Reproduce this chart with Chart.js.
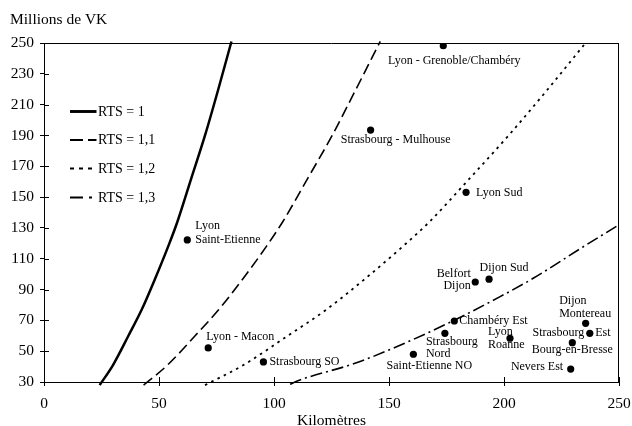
<!DOCTYPE html>
<html>
<head>
<meta charset="utf-8">
<script src="https://cdn.jsdelivr.net/npm/chart.js@4.4.1/dist/chart.umd.min.js"></script>
<style>
  html, body { margin: 0; padding: 0; background: #fff; }
  #wrap { width: 632px; height: 426px; }
</style>
</head>
<body>
<div id="wrap"><canvas id="rtsChart"></canvas></div>
<script>
// Courbes RTS (x = km, y = millions de VK)
const rts1X  = [24.2, 30, 36.7, 42.5, 48.3, 54, 58, 64, 70, 75.6, 81.5];
const rts1Y  = [28, 41, 60, 77, 97, 118, 134, 162, 190, 219, 251];
const rts11X = [43.3, 53.7, 65.7, 76, 86.5, 96.7, 103.8, 114.6, 125.3, 135.3, 146.2];
const rts11Y = [28, 41, 60, 77, 97, 118, 134, 162, 190, 219, 251];
const rts12X = [70, 86.7, 106, 122.8, 139.6, 156, 167.6, 185, 202, 218.5, 236];
const rts12Y = [28, 41, 60, 77, 97, 118, 134, 162, 190, 219, 251];
const rts13X = [107, 111.3, 135.2, 153.3, 178, 198.3, 212.7, 234.5, 250];
const rts13Y = [28.5, 31.3, 42.1, 52.9, 69.8, 85.4, 97.3, 117.8, 132];
const seriesNames = ['RTS = 1', 'RTS = 1,1', 'RTS = 1,2', 'RTS = 1,3'];

// Liaisons
const linkNames = [
  ['Lyon - Grenoble/Chambéry'], ['Strasbourg - Mulhouse'], ['Lyon Sud'],
  ['Lyon', 'Saint-Etienne'], ['Lyon - Macon'], ['Strasbourg SO'],
  ['Saint-Etienne NO'], ['Strasbourg', 'Nord'], ['Chambéry Est'],
  ['Belfort', 'Dijon'], ['Dijon Sud'], ['Lyon', 'Roanne'],
  ['Dijon', 'Montereau'], ['Strasbourg', 'Est'], ['Bourg-en-Bresse'], ['Nevers Est']
];
const linkKm = [173.6, 142, 183.5, 62.3, 71.4, 95.4, 160.6, 174.3, 178.4, 187.5, 193.5, 202.6, 235.5, 237.3, 229.7, 229];
const linkVK = [248.2, 193.5, 153.1, 122.2, 52.1, 43, 48, 61.6, 69.6, 94.9, 96.7, 58.4, 68.1, 61.6, 55.5, 38.4];

const xTicks = [0, 50, 100, 150, 200, 250];
const yTicks = [30, 50, 70, 90, 110, 130, 150, 170, 190, 210, 230, 250];

// label placement next to each point (pixels)
const labelPlace = [
  { a: 'center', dx: 11, dy: 15 },
  { a: 'center', dx: 25, dy: 10 },
  { a: 'left', dx: 10, dy: 1 },
  { a: 'left', dx: 8, dy: -14, lh: 14 },
  { a: 'left', dx: -2, dy: -11 },
  { a: 'left', dx: 6, dy: 0 },
  { a: 'center', dx: 16, dy: 11.5 },
  { a: 'left', dx: -19, dy: 8.5, lh: 11.8 },
  { a: 'left', dx: 5, dy: 0 },
  { a: 'right', dx: -4.5, dy: -7.7, lh: 11.7 },
  { a: 'center', dx: 15, dy: -11 },
  { a: 'left', dx: -22, dy: -6.6, lh: 13.3 },
  { a: 'left', dx: -26.5, dy: -22.6, lh: 13.3 },
  { a: 'split', dx: 5.5, dy: 0 },
  { a: 'center', dx: 0, dy: 7.3 },
  { a: 'right', dx: -7.5, dy: -2 }
];

const SERIF = '"Liberation Serif", "Times New Roman", serif';
const dashes = [[], [11, 5], [2.5, 4.5], [12, 4, 2, 4]];
const widths = [2.5, 1.6, 1.8, 1.6];
const legendDashes = [[], [13, 5], [4, 5], [13, 6, 3, 6]];

function pts(xs, ys) {
  return xs.map((x, i) => ({ x: x, y: ys[i] }));
}

const curves = [[rts1X, rts1Y], [rts11X, rts11Y], [rts12X, rts12Y], [rts13X, rts13Y]];
const datasets = curves.map((c, i) => ({
  label: seriesNames[i],
  data: pts(c[0], c[1]),
  showLine: true,
  borderColor: '#000',
  borderWidth: widths[i],
  borderDash: dashes[i],
  pointRadius: 0,
  cubicInterpolationMode: 'monotone',
  clip: 5
}));
datasets.push({
  label: 'Liaisons',
  data: pts(linkKm, linkVK),
  showLine: false,
  pointRadius: 3.6,
  pointBackgroundColor: '#000',
  pointBorderWidth: 0
});

// frame, inner tick marks, legend, labels
const extras = {
  id: 'extras',
  afterDraw(chart) {
    const c = chart.ctx;
    const area = chart.chartArea;
    const xs = chart.scales.x, ys = chart.scales.y;
    c.save();
    c.strokeStyle = '#000';
    c.lineWidth = 1;
    c.beginPath();
    c.moveTo(area.left, area.top + 0.5);
    c.lineTo(area.right, area.top + 0.5);
    c.moveTo(area.right - 0.5, area.top);
    c.lineTo(area.right - 0.5, area.bottom);
    xTicks.forEach(v => {
      const px = Math.round(xs.getPixelForValue(v)) + 0.5;
      c.moveTo(px, area.bottom);
      c.lineTo(px, area.bottom - 5);
    });
    yTicks.forEach(v => {
      const py = Math.round(ys.getPixelForValue(v)) + 0.5;
      c.moveTo(area.left, py);
      c.lineTo(area.left + 5, py);
    });
    c.stroke();

    // y title
    c.fillStyle = '#000';
    c.font = '15.5px ' + SERIF;
    c.textAlign = 'left';
    c.textBaseline = 'middle';
    c.fillText('Millions de VK', 10, 20);

    // legend
    const legY = [111.5, 140, 168.5, 197.5];
    seriesNames.forEach((name, i) => {
      c.beginPath();
      c.lineWidth = widths[i] + 0.4;
      c.setLineDash(legendDashes[i]);
      c.moveTo(70, legY[i]);
      c.lineTo(96.5, legY[i]);
      c.stroke();
      c.setLineDash([]);
      c.font = '14px ' + SERIF;
      c.fillText(name, 98, legY[i] + 0.5);
    });

    // point labels
    const meta = chart.getDatasetMeta(4);
    c.font = '12px ' + SERIF;
    meta.data.forEach((p, i) => {
      const pl = labelPlace[i];
      const lines = linkNames[i];
      if (pl.a === 'split') {
        c.textAlign = 'right';
        c.fillText(lines[0], p.x - pl.dx, p.y + pl.dy);
        c.textAlign = 'left';
        c.fillText(lines[1], p.x + pl.dx, p.y + pl.dy);
        return;
      }
      c.textAlign = pl.a;
      lines.forEach((t, k) => {
        c.fillText(t, p.x + pl.dx, p.y + pl.dy + k * (pl.lh || 12));
      });
    });
    c.restore();
  }
};

const ctx = document.getElementById('rtsChart').getContext('2d');
const rtsChart = new Chart(ctx, {
  type: 'scatter',
  data: { datasets: datasets },
  plugins: [extras],
  options: {
    responsive: true,
    maintainAspectRatio: false,
    animation: false,
    layout: { padding: { top: 43, right: 13, left: 0, bottom: 0 } },
    plugins: {
      legend: { display: false },
      tooltip: { enabled: false }
    },
    scales: {
      x: {
        type: 'linear',
        min: 0,
        max: 250,
        afterFit: s => { s.height = 44; s.paddingLeft = 0; s.paddingRight = 0; },
        afterBuildTicks: s => { s.ticks = xTicks.map(v => ({ value: v })); },
        grid: { drawOnChartArea: false, tickLength: 4, color: '#000' },
        border: { color: '#000', width: 1 },
        ticks: { color: '#000', padding: 9, maxRotation: 0, font: { family: SERIF, size: 15.5 } },
        title: {
          display: true,
          text: 'Kilomètres',
          color: '#000',
          padding: 0,
          font: { family: SERIF, size: 15.5, lineHeight: 0.7 }
        }
      },
      y: {
        type: 'linear',
        min: 30,
        max: 250,
        afterFit: s => { s.width = 44; s.paddingTop = 0; s.paddingBottom = 0; },
        afterBuildTicks: s => { s.ticks = yTicks.map(v => ({ value: v })); },
        grid: { drawOnChartArea: false, tickLength: 4, color: '#000' },
        border: { color: '#000', width: 1 },
        ticks: { color: '#000', padding: 6, font: { family: SERIF, size: 15.5 } }
      }
    }
  }
});
</script>
</body>
</html>
